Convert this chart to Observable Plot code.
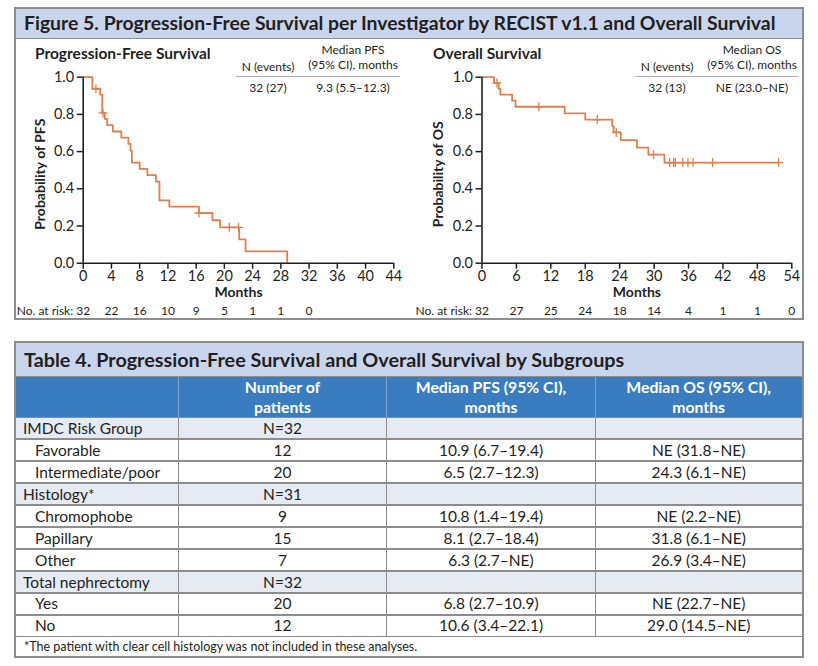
<!DOCTYPE html>
<html>
<head>
<meta charset="utf-8">
<script src="https://cdn.jsdelivr.net/npm/d3@7"></script>
<script src="https://cdn.jsdelivr.net/npm/@observablehq/plot@0.6"></script>
<style>
  html, body { margin: 0; padding: 0; background: #fff; }
  #page { position: relative; width: 818px; height: 666px; overflow: hidden;
          font-family: Lato, "Open Sans", sans-serif; color: #231f20; }
  .box { position: absolute; box-sizing: border-box; border: 2px solid #8d8d8d; }
  .bar { position: absolute; left: 0; right: 0; top: 0; box-sizing: border-box;
         background: #c8d5ec; border-bottom: 1.5px solid #8d8d8d;
         font-weight: 700; padding-left: 8px; white-space: nowrap; }
  .t { position: absolute; white-space: nowrap; }
  .chart { position: absolute; }
  .chart svg { overflow: visible; background: transparent; }
</style>
</head>
<body>
<div id="page"></div>
<script>
// ---- Progression-free survival (Kaplan–Meier steps) ----
const pfsTime = [0, 1.3, 2.4, 2.7, 3.05, 3.4, 4.2, 5.4, 6.4, 6.7, 6.9, 8.0, 9.1, 10.3, 10.8, 12.2, 16.4, 18.3, 19.4, 22.1, 23.0, 28.9];
const pfsSurv = [1, 0.938, 0.906, 0.808, 0.776, 0.742, 0.708, 0.675, 0.641, 0.605, 0.541, 0.507, 0.473, 0.439, 0.338, 0.304, 0.270, 0.231, 0.193, 0.128, 0.064, 0];
const pfsCensorTime = [1.8, 2.8, 16.4, 20.7, 22.0];
const pfsCensorSurv = [0.938, 0.808, 0.270, 0.193, 0.193];
const pfsRiskTime = [0, 4, 8, 12, 16, 20, 24, 28, 32];
const pfsAtRisk = [32, 22, 16, 10, 9, 5, 1, 1, 0];
const pfsSummary = ["32 (27)", "9.3 (5.5–12.3)"];

// ---- Overall survival (Kaplan–Meier steps) ----
const osTime = [0, 2.1, 2.9, 3.2, 5.25, 5.85, 14.4, 18.0, 22.7, 22.95, 24.2, 27.0, 29.0, 31.8, 51.7];
const osSurv = [1, 0.969, 0.938, 0.906, 0.874, 0.841, 0.806, 0.772, 0.737, 0.703, 0.662, 0.621, 0.584, 0.541, 0.541];
const osCensorTime = [2.6, 9.9, 20.1, 23.4, 29.9, 32.7, 33.4, 33.7, 35.0, 35.9, 36.8, 40.2, 51.7];
const osCensorSurv = [0.969, 0.841, 0.772, 0.703, 0.584, 0.541, 0.541, 0.541, 0.541, 0.541, 0.541, 0.541, 0.541];
const osRiskTime = [0, 6, 12, 18, 24, 30, 36, 42, 48, 54];
const osAtRisk = [32, 27, 25, 24, 18, 14, 4, 1, 1, 0];
const osSummary = ["32 (13)", "NE (23.0–NE)"];

// ---- Table 4: subgroups ----
const tableHeader = ["", "Number of\npatients", "Median PFS (95% CI),\nmonths", "Median OS (95% CI),\nmonths"];
const rowLabels = ["IMDC Risk Group", "Favorable", "Intermediate/poor", "Histology*", "Chromophobe", "Papillary", "Other", "Total nephrectomy", "Yes", "No"];
const rowIsGroup = [true, false, false, true, false, false, false, true, false, false];
const nPatients = ["N=32", "12", "20", "N=31", "9", "15", "7", "N=32", "20", "12"];
const medianPFS = ["", "10.9 (6.7–19.4)", "6.5 (2.7–12.3)", "", "10.8 (1.4–19.4)", "8.1 (2.7–18.4)", "6.3 (2.7–NE)", "", "6.8 (2.7–10.9)", "10.6 (3.4–22.1)"];
const medianOS = ["", "NE (31.8–NE)", "24.3 (6.1–NE)", "", "NE (2.2–NE)", "31.8 (6.1–NE)", "26.9 (3.4–NE)", "", "NE (22.7–NE)", "29.0 (14.5–NE)"];
const footnote = "*The patient with clear cell histology was not included in these analyses.";

const INK = "#231f20";
const CURVE = "#e07f50";
const page = document.getElementById("page");

function el(tag, cls, style, parent = page) {
  const e = document.createElement(tag);
  if (cls) e.className = cls;
  Object.assign(e.style, style);
  parent.appendChild(e);
  return e;
}
function label(txt, x, y, {anchor = "start", size = 13, weight = 400, color = INK} = {}, parent = page) {
  const d = el("div", "t", {
    left: x + "px", top: (y - size * 0.6) + "px", fontSize: size + "px",
    lineHeight: (size * 1.2) + "px", fontWeight: weight, color,
    transform: anchor === "middle" ? "translateX(-50%)" : anchor === "end" ? "translateX(-100%)" : "none"
  }, parent);
  d.textContent = txt;
  return d;
}

// ---- Figure 5 frame ----
const fig = el("div", "box", {left: "14px", top: "7px", width: "790px", height: "313px"});
const figBar = el("div", "bar", {height: "30px", lineHeight: "28px", fontSize: "19.4px"}, fig);
figBar.textContent = "Figure 5. Progression-Free Survival per Investigator by RECIST v1.1 and Overall Survival";

function kmPlot({time, surv, censT, censS, riskT, riskN, xMax, xStep, yLabel, left, width, marginLeft, marginRight}) {
  const steps = time.map((t, i) => ({t, s: surv[i]}));
  const cens = censT.map((t, i) => ({t, s: censS[i]}));
  const risk = riskT.map((t, i) => ({t, n: riskN[i]}));
  const svg = Plot.plot({
    width, height: 282,
    marginLeft, marginRight, marginTop: 38.7, marginBottom: 57.3,
    style: {fontFamily: "Lato, 'Open Sans', sans-serif", fontSize: "14px", color: INK, overflow: "visible", background: "transparent"},
    x: {domain: [0, xMax]},
    y: {domain: [0, 1]},
    marks: [
      Plot.axisX({ticks: d3.range(0, xMax + 1, xStep), tickFormat: "d", tickSize: 6, tickPadding: 2, strokeWidth: 1.5, fontSize: 14.5, label: null}),
      Plot.axisY({ticks: [0, 0.2, 0.4, 0.6, 0.8, 1], tickFormat: d3.format(".1f"), tickSize: 6, tickPadding: 3, strokeWidth: 1.5, fontSize: 14.5, label: null}),
      Plot.line(steps, {x: "t", y: "s", curve: "step-after", stroke: CURVE, strokeWidth: 1.8}),
      Plot.dot(cens, {x: "t", y: "s", symbol: "plus", r: 3, stroke: CURVE, strokeWidth: 1.3}),
      Plot.ruleY([0], {stroke: INK, strokeWidth: 1.6}),
      Plot.ruleX([0], {stroke: INK, strokeWidth: 1.6}),
      Plot.text(["Months"], {frameAnchor: "bottom", lineAnchor: "middle", dy: 29.5, fontWeight: "bold", fontSize: 14, fill: INK}),
      Plot.text([yLabel], {frameAnchor: "left", textAnchor: "middle", lineAnchor: "middle", rotate: -90, dx: -43, dy: 4, fontWeight: "bold", fontSize: 14, fill: INK}),
      Plot.text(risk, {x: "t", text: "n", frameAnchor: "bottom", lineAnchor: "middle", dy: 47.5, fontSize: 12, fill: INK}),
      Plot.text(["No. at risk:"], {frameAnchor: "bottom-left", lineAnchor: "middle", dx: -10, dy: 47.5, textAnchor: "end", fontSize: 12, fill: INK})
    ]
  });
  const holder = el("div", "chart", {left: left + "px", top: "38px"});
  holder.appendChild(svg);
}

kmPlot({time: pfsTime, surv: pfsSurv, censT: pfsCensorTime, censS: pfsCensorSurv,
        riskT: pfsRiskTime, riskN: pfsAtRisk, xMax: 44, xStep: 4, yLabel: "Probability of PFS",
        left: 15, width: 393, marginLeft: 67.7, marginRight: 14.7});
kmPlot({time: osTime, surv: osSurv, censT: osCensorTime, censS: osCensorSurv,
        riskT: osRiskTime, riskN: osAtRisk, xMax: 54, xStep: 6, yLabel: "Probability of OS",
        left: 408, width: 394, marginLeft: 73.5, marginRight: 10.7});

// panel titles and summary tables
label("Progression-Free Survival", 35, 53, {size: 15.5, weight: 700});
label("Overall Survival", 433, 53, {size: 15.5, weight: 700});

function summary(xN, xMed, lineX0, lineX1, medTitle, vals) {
  label(medTitle, xMed, 50, {anchor: "middle", size: 12});
  label("(95% CI), months", xMed, 65, {anchor: "middle", size: 12});
  label("N (events)", xN, 67, {anchor: "middle", size: 12});
  el("div", "", {position: "absolute", left: lineX0 + "px", top: "75.5px", width: (lineX1 - lineX0) + "px", height: "0", borderTop: "1.5px solid #b0b0b0"});
  label(vals[0], xN, 88.5, {anchor: "middle", size: 12});
  label(vals[1], xMed, 88.5, {anchor: "middle", size: 12});
}
summary(268, 353, 236, 400, "Median PFS", pfsSummary);
summary(667, 752, 635, 798, "Median OS", osSummary);

// ---- Table 4 ----
const tbl = el("div", "box", {left: "14px", top: "340.5px", width: "790px", height: "317px"});
const tblBar = el("div", "bar", {height: "35.5px", lineHeight: "33px", fontSize: "19.8px"}, tbl);
tblBar.textContent = "Table 4. Progression-Free Survival and Overall Survival by Subgroups";

const colX = [16, 178.3, 386.7, 595.3, 802];
const headTop = 376.5, headBottom = 417.3, rowH = 21.94, footBottom = 655.5;
const rowTop = i => headBottom + i * rowH;
const tableBottom = rowTop(rowLabels.length);

// header band
el("div", "", {position: "absolute", left: colX[0] + "px", top: headTop + "px", width: (colX[4] - colX[0]) + "px", height: (headBottom - headTop) + "px", background: "#3a7cc0"});
tableHeader.forEach((h, j) => {
  if (!h) return;
  const cx = (colX[j] + colX[j + 1]) / 2;
  h.split("\n").forEach((line, k) => label(line, cx, 387.3 + k * 20, {anchor: "middle", size: 15.8, weight: 700, color: "#fff"}));
});
// body rows
rowLabels.forEach((name, i) => {
  const y0 = rowTop(i), cy = y0 + rowH / 2;
  if (rowIsGroup[i]) {
    el("div", "", {position: "absolute", left: colX[0] + "px", top: y0 + "px", width: (colX[4] - colX[0]) + "px", height: rowH + "px", background: "#e5eaf3"});
  }
  label(name, rowIsGroup[i] ? 23 : 35, cy, {size: 15.5});
  [nPatients[i], medianPFS[i], medianOS[i]].forEach((v, j) => {
    if (v) label(v, (colX[j + 1] + colX[j + 2]) / 2, cy, {anchor: "middle", size: 15.5});
  });
});
// grid lines
const hl = (y, c = "#8d8d8d") => el("div", "", {position: "absolute", left: colX[0] + "px", top: (y - 0.75) + "px", width: (colX[4] - colX[0]) + "px", height: "1.5px", background: c});
const vl = (x, y0, y1, c = "#8d8d8d") => el("div", "", {position: "absolute", left: (x - 0.75) + "px", top: y0 + "px", width: "1.5px", height: (y1 - y0) + "px", background: c});
hl(headTop);
for (let i = 0; i <= rowLabels.length; i++) hl(rowTop(i));
[1, 2, 3].forEach(j => { vl(colX[j], headTop, headBottom, "#7fa3cf"); vl(colX[j], headBottom, tableBottom); });
label(footnote, 24, (tableBottom + footBottom) / 2 + 0.5, {size: 12.5});
</script>
</body>
</html>
